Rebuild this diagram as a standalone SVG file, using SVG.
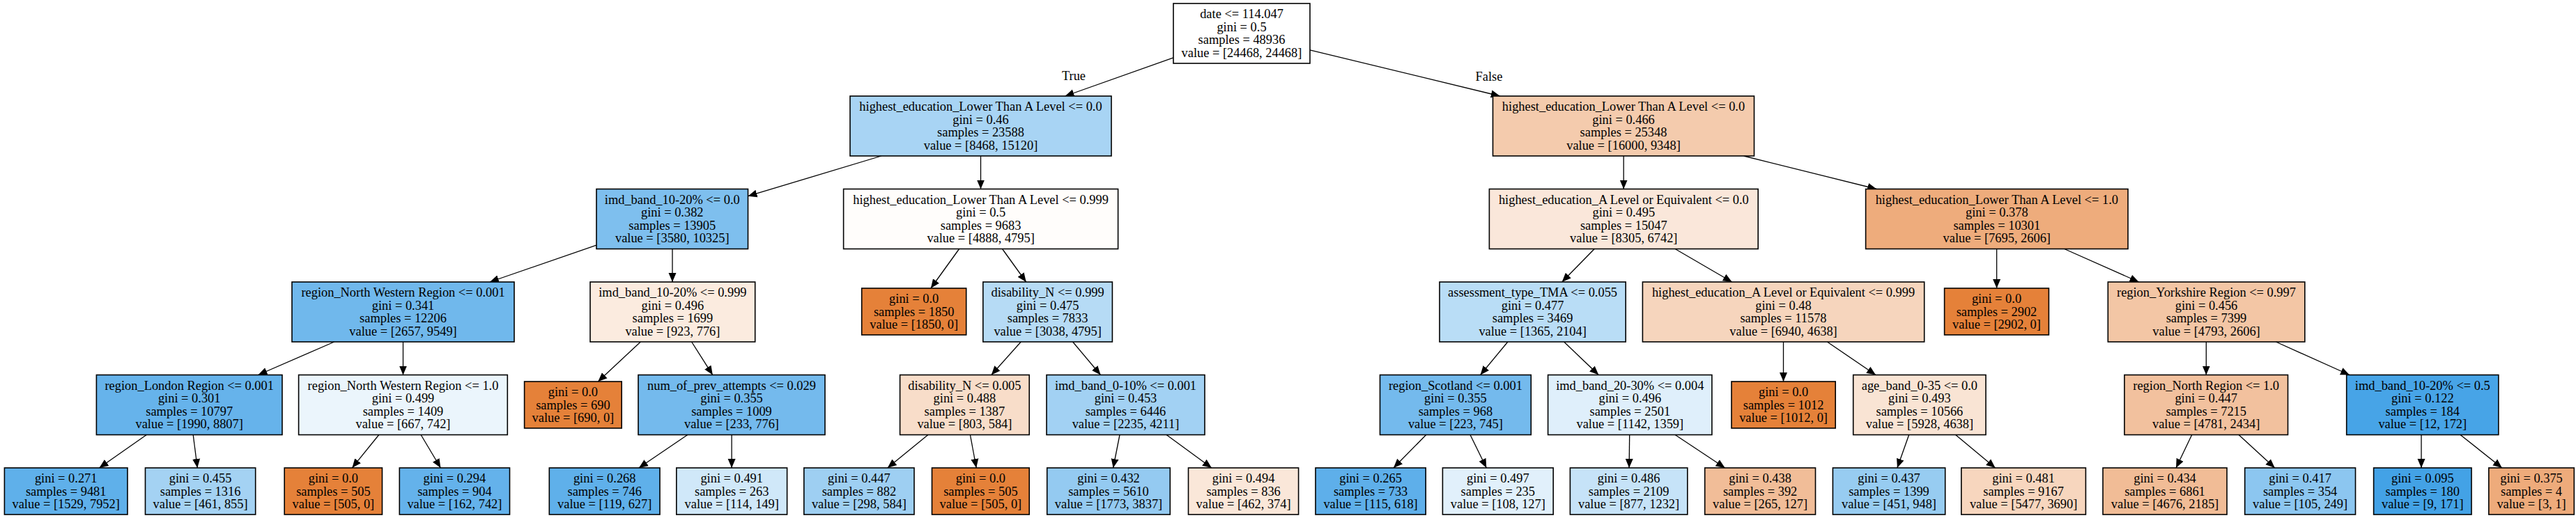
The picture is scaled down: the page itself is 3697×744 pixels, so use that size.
<svg xmlns="http://www.w3.org/2000/svg" width="3697" height="744" viewBox="0 0 3697 744">
<style>
.n{stroke:#000;stroke-width:1.6}
.t{font-family:"Liberation Serif","Times New Roman",serif;font-size:18.4px;text-anchor:middle;fill:#000}
.e{stroke:#000;stroke-width:1.3;fill:none;marker-end:url(#arr)}
</style>
<defs>
<marker id="arr" viewBox="0 -6 14 12" refX="13" refY="0" markerWidth="14" markerHeight="12" markerUnits="userSpaceOnUse" orient="auto">
<path d="M0,-5.5 L13,0 L0,5.5 z" fill="#000"/>
</marker>
</defs>
<rect width="3697" height="744" fill="#fff"/>
<g id="edges">
<line class="e" x1="1684" y1="82.8" x2="1528.6" y2="138"/>
<line class="e" x1="1880" y1="71.8" x2="2152.8" y2="138"/>
<line class="e" x1="1264.9" y1="224" x2="1073.5" y2="281.7"/>
<line class="e" x1="1407.5" y1="224" x2="1407.5" y2="271.5"/>
<line class="e" x1="2330.2" y1="224" x2="2330.2" y2="271.5"/>
<line class="e" x1="2502.6" y1="224" x2="2693.2" y2="271.5"/>
<line class="e" x1="856" y1="352.1" x2="702.9" y2="405"/>
<line class="e" x1="965" y1="357.5" x2="965" y2="405"/>
<line class="e" x1="1376.6" y1="357.5" x2="1335.9" y2="414"/>
<line class="e" x1="1438.5" y1="357.5" x2="1472.7" y2="405"/>
<line class="e" x1="2288.2" y1="357.5" x2="2241.7" y2="405"/>
<line class="e" x1="2404.1" y1="357.5" x2="2485.7" y2="405"/>
<line class="e" x1="2865.6" y1="357.5" x2="2865.6" y2="414"/>
<line class="e" x1="2962.7" y1="357.5" x2="3069.6" y2="405"/>
<line class="e" x1="479.7" y1="491" x2="370.5" y2="538.5"/>
<line class="e" x1="578.5" y1="491" x2="578.5" y2="538.5"/>
<line class="e" x1="919.3" y1="491" x2="858.3" y2="548"/>
<line class="e" x1="992.6" y1="491" x2="1022.8" y2="538.5"/>
<line class="e" x1="1465.2" y1="491" x2="1422.8" y2="538.5"/>
<line class="e" x1="1539.6" y1="491" x2="1579.5" y2="538.5"/>
<line class="e" x1="2163.9" y1="491" x2="2124.6" y2="538.5"/>
<line class="e" x1="2244.6" y1="491" x2="2294.3" y2="538.5"/>
<line class="e" x1="2559.5" y1="491" x2="2559.5" y2="548"/>
<line class="e" x1="2622.4" y1="491" x2="2692" y2="538.5"/>
<line class="e" x1="3166.3" y1="491" x2="3166.3" y2="538.5"/>
<line class="e" x1="3266.4" y1="491" x2="3372" y2="538.5"/>
<line class="e" x1="210.3" y1="624.5" x2="142.5" y2="672"/>
<line class="e" x1="277.2" y1="624.5" x2="283.3" y2="672"/>
<line class="e" x1="543.8" y1="624.5" x2="505.4" y2="672"/>
<line class="e" x1="604.1" y1="624.5" x2="632.4" y2="672"/>
<line class="e" x1="986.8" y1="624.5" x2="916.9" y2="672"/>
<line class="e" x1="1050.1" y1="624.5" x2="1050.1" y2="672"/>
<line class="e" x1="1331.9" y1="624.5" x2="1273.8" y2="672"/>
<line class="e" x1="1392.4" y1="624.5" x2="1401.2" y2="672"/>
<line class="e" x1="1607" y1="624.5" x2="1597.6" y2="672"/>
<line class="e" x1="1674.1" y1="624.5" x2="1738.9" y2="672"/>
<line class="e" x1="2046.7" y1="624.5" x2="2000" y2="672"/>
<line class="e" x1="2110" y1="624.5" x2="2133.3" y2="672"/>
<line class="e" x1="2338.7" y1="624.5" x2="2338.1" y2="672"/>
<line class="e" x1="2404.1" y1="624.5" x2="2475.6" y2="672"/>
<line class="e" x1="2739.7" y1="624.5" x2="2722.9" y2="672"/>
<line class="e" x1="2806.6" y1="624.5" x2="2863.6" y2="672"/>
<line class="e" x1="3145.7" y1="624.5" x2="3123" y2="672"/>
<line class="e" x1="3213" y1="624.5" x2="3264.7" y2="672"/>
<line class="e" x1="3475" y1="624.5" x2="3475" y2="672"/>
<line class="e" x1="3531" y1="624.5" x2="3590.8" y2="672"/>
<text class="t" x="1541" y="115">True</text>
<text class="t" x="2137" y="116">False</text>
</g>

<g id="n0"><rect class="n" x="1684" y="5" width="196" height="86" fill="#ffffff"/>
<text class="t" x="1782" y="26.25">date &lt;= 114.047</text><text class="t" x="1782" y="44.75">gini = 0.5</text><text class="t" x="1782" y="63.25">samples = 48936</text><text class="t" x="1782" y="81.75">value = [24468, 24468]</text></g>

<g id="n1"><rect class="n" x="1220" y="138" width="375" height="86" fill="#a8d4f4"/>
<text class="t" x="1407.5" y="159.25">highest_education_Lower Than A Level &lt;= 0.0</text><text class="t" x="1407.5" y="177.75">gini = 0.46</text><text class="t" x="1407.5" y="196.25">samples = 23588</text><text class="t" x="1407.5" y="214.75">value = [8468, 15120]</text></g>

<g id="n2"><rect class="n" x="2142.5" y="138" width="375" height="86" fill="#f4cbad"/>
<text class="t" x="2330" y="159.25">highest_education_Lower Than A Level &lt;= 0.0</text><text class="t" x="2330" y="177.75">gini = 0.466</text><text class="t" x="2330" y="196.25">samples = 25348</text><text class="t" x="2330" y="214.75">value = [16000, 9348]</text></g>

<g id="n3"><rect class="n" x="856" y="271.5" width="217.5" height="86" fill="#7ebfee"/>
<text class="t" x="964.75" y="292.75">imd_band_10-20% &lt;= 0.0</text><text class="t" x="964.75" y="311.25">gini = 0.382</text><text class="t" x="964.75" y="329.75">samples = 13905</text><text class="t" x="964.75" y="348.25">value = [3580, 10325]</text></g>

<g id="n4"><rect class="n" x="1210.6" y="271.5" width="394" height="86" fill="#fffdfb"/>
<text class="t" x="1407.6" y="292.75">highest_education_Lower Than A Level &lt;= 0.999</text><text class="t" x="1407.6" y="311.25">gini = 0.5</text><text class="t" x="1407.6" y="329.75">samples = 9683</text><text class="t" x="1407.6" y="348.25">value = [4888, 4795]</text></g>

<g id="n5"><rect class="n" x="2137.4" y="271.5" width="385.8" height="86" fill="#fae7da"/>
<text class="t" x="2330.3" y="292.75">highest_education_A Level or Equivalent &lt;= 0.0</text><text class="t" x="2330.3" y="311.25">gini = 0.495</text><text class="t" x="2330.3" y="329.75">samples = 15047</text><text class="t" x="2330.3" y="348.25">value = [8305, 6742]</text></g>

<g id="n6"><rect class="n" x="2677.6" y="271.5" width="376.4" height="86" fill="#eeac7c"/>
<text class="t" x="2865.8" y="292.75">highest_education_Lower Than A Level &lt;= 1.0</text><text class="t" x="2865.8" y="311.25">gini = 0.378</text><text class="t" x="2865.8" y="329.75">samples = 10301</text><text class="t" x="2865.8" y="348.25">value = [7695, 2606]</text></g>

<g id="n7"><rect class="n" x="419" y="405" width="319" height="86" fill="#70b8ec"/>
<text class="t" x="578.5" y="426.25">region_North Western Region &lt;= 0.001</text><text class="t" x="578.5" y="444.75">gini = 0.341</text><text class="t" x="578.5" y="463.25">samples = 12206</text><text class="t" x="578.5" y="481.75">value = [2657, 9549]</text></g>

<g id="n8"><rect class="n" x="847" y="405" width="236.7" height="86" fill="#fbebdf"/>
<text class="t" x="965.4" y="426.25">imd_band_10-20% &lt;= 0.999</text><text class="t" x="965.4" y="444.75">gini = 0.496</text><text class="t" x="965.4" y="463.25">samples = 1699</text><text class="t" x="965.4" y="481.75">value = [923, 776]</text></g>

<g id="n9"><rect class="n" x="1236.7" y="414" width="150" height="67" fill="#e58139"/>
<text class="t" x="1311.7" y="435">gini = 0.0</text><text class="t" x="1311.7" y="453.5">samples = 1850</text><text class="t" x="1311.7" y="472">value = [1850, 0]</text></g>

<g id="n10"><rect class="n" x="1410.8" y="405" width="185.6" height="86" fill="#b6dbf5"/>
<text class="t" x="1503.6" y="426.25">disability_N &lt;= 0.999</text><text class="t" x="1503.6" y="444.75">gini = 0.475</text><text class="t" x="1503.6" y="463.25">samples = 7833</text><text class="t" x="1503.6" y="481.75">value = [3038, 4795]</text></g>

<g id="n11"><rect class="n" x="2066" y="405" width="267.2" height="86" fill="#b9ddf6"/>
<text class="t" x="2199.6" y="426.25">assessment_type_TMA &lt;= 0.055</text><text class="t" x="2199.6" y="444.75">gini = 0.477</text><text class="t" x="2199.6" y="463.25">samples = 3469</text><text class="t" x="2199.6" y="481.75">value = [1365, 2104]</text></g>

<g id="n12"><rect class="n" x="2357.4" y="405" width="404.3" height="86" fill="#f6d5bd"/>
<text class="t" x="2559.5" y="426.25">highest_education_A Level or Equivalent &lt;= 0.999</text><text class="t" x="2559.5" y="444.75">gini = 0.48</text><text class="t" x="2559.5" y="463.25">samples = 11578</text><text class="t" x="2559.5" y="481.75">value = [6940, 4638]</text></g>

<g id="n13"><rect class="n" x="2790.6" y="414" width="149.8" height="67" fill="#e58139"/>
<text class="t" x="2865.5" y="435">gini = 0.0</text><text class="t" x="2865.5" y="453.5">samples = 2902</text><text class="t" x="2865.5" y="472">value = [2902, 0]</text></g>

<g id="n14"><rect class="n" x="3025.3" y="405" width="282.5" height="86" fill="#f3c6a5"/>
<text class="t" x="3166.5" y="426.25">region_Yorkshire Region &lt;= 0.997</text><text class="t" x="3166.5" y="444.75">gini = 0.456</text><text class="t" x="3166.5" y="463.25">samples = 7399</text><text class="t" x="3166.5" y="481.75">value = [4793, 2606]</text></g>

<g id="n15"><rect class="n" x="138.4" y="538.5" width="266.6" height="86" fill="#66b3eb"/>
<text class="t" x="271.7" y="559.75">region_London Region &lt;= 0.001</text><text class="t" x="271.7" y="578.25">gini = 0.301</text><text class="t" x="271.7" y="596.75">samples = 10797</text><text class="t" x="271.7" y="615.25">value = [1990, 8807]</text></g>

<g id="n16"><rect class="n" x="428.6" y="538.5" width="299.7" height="86" fill="#ebf5fc"/>
<text class="t" x="578.5" y="559.75">region_North Western Region &lt;= 1.0</text><text class="t" x="578.5" y="578.25">gini = 0.499</text><text class="t" x="578.5" y="596.75">samples = 1409</text><text class="t" x="578.5" y="615.25">value = [667, 742]</text></g>

<g id="n17"><rect class="n" x="752.6" y="548" width="139.6" height="67" fill="#e58139"/>
<text class="t" x="822.4" y="569">gini = 0.0</text><text class="t" x="822.4" y="587.5">samples = 690</text><text class="t" x="822.4" y="606">value = [690, 0]</text></g>

<g id="n18"><rect class="n" x="916" y="538.5" width="268" height="86" fill="#74baed"/>
<text class="t" x="1050" y="559.75">num_of_prev_attempts &lt;= 0.029</text><text class="t" x="1050" y="578.25">gini = 0.355</text><text class="t" x="1050" y="596.75">samples = 1009</text><text class="t" x="1050" y="615.25">value = [233, 776]</text></g>

<g id="n19"><rect class="n" x="1291.6" y="538.5" width="185.6" height="86" fill="#f8ddc9"/>
<text class="t" x="1384.4" y="559.75">disability_N &lt;= 0.005</text><text class="t" x="1384.4" y="578.25">gini = 0.488</text><text class="t" x="1384.4" y="596.75">samples = 1387</text><text class="t" x="1384.4" y="615.25">value = [803, 584]</text></g>

<g id="n20"><rect class="n" x="1502" y="538.5" width="227" height="86" fill="#a2d1f3"/>
<text class="t" x="1615.5" y="559.75">imd_band_0-10% &lt;= 0.001</text><text class="t" x="1615.5" y="578.25">gini = 0.453</text><text class="t" x="1615.5" y="596.75">samples = 6446</text><text class="t" x="1615.5" y="615.25">value = [2235, 4211]</text></g>

<g id="n21"><rect class="n" x="1980.5" y="538.5" width="216.8" height="86" fill="#74baed"/>
<text class="t" x="2088.9" y="559.75">region_Scotland &lt;= 0.001</text><text class="t" x="2088.9" y="578.25">gini = 0.355</text><text class="t" x="2088.9" y="596.75">samples = 968</text><text class="t" x="2088.9" y="615.25">value = [223, 745]</text></g>

<g id="n22"><rect class="n" x="2221.6" y="538.5" width="235.3" height="86" fill="#dfeffb"/>
<text class="t" x="2339.3" y="559.75">imd_band_20-30% &lt;= 0.004</text><text class="t" x="2339.3" y="578.25">gini = 0.496</text><text class="t" x="2339.3" y="596.75">samples = 2501</text><text class="t" x="2339.3" y="615.25">value = [1142, 1359]</text></g>

<g id="n23"><rect class="n" x="2485" y="548" width="149.2" height="67" fill="#e58139"/>
<text class="t" x="2559.6" y="569">gini = 0.0</text><text class="t" x="2559.6" y="587.5">samples = 1012</text><text class="t" x="2559.6" y="606">value = [1012, 0]</text></g>

<g id="n24"><rect class="n" x="2659.7" y="538.5" width="190.3" height="86" fill="#f9e4d4"/>
<text class="t" x="2754.9" y="559.75">age_band_0-35 &lt;= 0.0</text><text class="t" x="2754.9" y="578.25">gini = 0.493</text><text class="t" x="2754.9" y="596.75">samples = 10566</text><text class="t" x="2754.9" y="615.25">value = [5928, 4638]</text></g>

<g id="n25"><rect class="n" x="3048.9" y="538.5" width="234.6" height="86" fill="#f2c19e"/>
<text class="t" x="3166.2" y="559.75">region_North Region &lt;= 1.0</text><text class="t" x="3166.2" y="578.25">gini = 0.447</text><text class="t" x="3166.2" y="596.75">samples = 7215</text><text class="t" x="3166.2" y="615.25">value = [4781, 2434]</text></g>

<g id="n26"><rect class="n" x="3367.7" y="538.5" width="218.1" height="86" fill="#47a4e7"/>
<text class="t" x="3476.8" y="559.75">imd_band_10-20% &lt;= 0.5</text><text class="t" x="3476.8" y="578.25">gini = 0.122</text><text class="t" x="3476.8" y="596.75">samples = 184</text><text class="t" x="3476.8" y="615.25">value = [12, 172]</text></g>

<g id="l1"><rect class="n" x="6.4" y="672" width="176.6" height="67" fill="#5fb0ea"/>
<text class="t" x="94.7" y="693">gini = 0.271</text><text class="t" x="94.7" y="711.5">samples = 9481</text><text class="t" x="94.7" y="730">value = [1529, 7952]</text></g>

<g id="l2"><rect class="n" x="208.5" y="672" width="158.2" height="67" fill="#a4d2f3"/>
<text class="t" x="287.6" y="693">gini = 0.455</text><text class="t" x="287.6" y="711.5">samples = 1316</text><text class="t" x="287.6" y="730">value = [461, 855]</text></g>

<g id="l3"><rect class="n" x="408.2" y="672" width="140.3" height="67" fill="#e58139"/>
<text class="t" x="478.4" y="693">gini = 0.0</text><text class="t" x="478.4" y="711.5">samples = 505</text><text class="t" x="478.4" y="730">value = [505, 0]</text></g>

<g id="l4"><rect class="n" x="573.3" y="672" width="158.2" height="67" fill="#64b2eb"/>
<text class="t" x="652.4" y="693">gini = 0.294</text><text class="t" x="652.4" y="711.5">samples = 904</text><text class="t" x="652.4" y="730">value = [162, 742]</text></g>

<g id="l5"><rect class="n" x="788.3" y="672" width="158.7" height="67" fill="#5fb0ea"/>
<text class="t" x="867.7" y="693">gini = 0.268</text><text class="t" x="867.7" y="711.5">samples = 746</text><text class="t" x="867.7" y="730">value = [119, 627]</text></g>

<g id="l6"><rect class="n" x="970.8" y="672" width="158.8" height="67" fill="#d0e8f9"/>
<text class="t" x="1050.2" y="693">gini = 0.491</text><text class="t" x="1050.2" y="711.5">samples = 263</text><text class="t" x="1050.2" y="730">value = [114, 149]</text></g>

<g id="l7"><rect class="n" x="1153.8" y="672" width="158.2" height="67" fill="#9ecff2"/>
<text class="t" x="1232.9" y="693">gini = 0.447</text><text class="t" x="1232.9" y="711.5">samples = 882</text><text class="t" x="1232.9" y="730">value = [298, 584]</text></g>

<g id="l8"><rect class="n" x="1337.5" y="672" width="139.7" height="67" fill="#e58139"/>
<text class="t" x="1407.4" y="693">gini = 0.0</text><text class="t" x="1407.4" y="711.5">samples = 505</text><text class="t" x="1407.4" y="730">value = [505, 0]</text></g>

<g id="l9"><rect class="n" x="1502.7" y="672" width="176.6" height="67" fill="#94caf1"/>
<text class="t" x="1591" y="693">gini = 0.432</text><text class="t" x="1591" y="711.5">samples = 5610</text><text class="t" x="1591" y="730">value = [1773, 3837]</text></g>

<g id="l10"><rect class="n" x="1705.5" y="672" width="158.1" height="67" fill="#fae7d9"/>
<text class="t" x="1784.6" y="693">gini = 0.494</text><text class="t" x="1784.6" y="711.5">samples = 836</text><text class="t" x="1784.6" y="730">value = [462, 374]</text></g>

<g id="l11"><rect class="n" x="1888" y="672" width="158.2" height="67" fill="#5eafea"/>
<text class="t" x="1967.1" y="693">gini = 0.265</text><text class="t" x="1967.1" y="711.5">samples = 733</text><text class="t" x="1967.1" y="730">value = [115, 618]</text></g>

<g id="l12"><rect class="n" x="2070.4" y="672" width="158.8" height="67" fill="#e1f0fb"/>
<text class="t" x="2149.8" y="693">gini = 0.497</text><text class="t" x="2149.8" y="711.5">samples = 235</text><text class="t" x="2149.8" y="730">value = [108, 127]</text></g>

<g id="l13"><rect class="n" x="2253.4" y="672" width="168.4" height="67" fill="#c6e3f8"/>
<text class="t" x="2337.6" y="693">gini = 0.486</text><text class="t" x="2337.6" y="711.5">samples = 2109</text><text class="t" x="2337.6" y="730">value = [877, 1232]</text></g>

<g id="l14"><rect class="n" x="2446.7" y="672" width="158.8" height="67" fill="#f1bd98"/>
<text class="t" x="2526.1" y="693">gini = 0.438</text><text class="t" x="2526.1" y="711.5">samples = 392</text><text class="t" x="2526.1" y="730">value = [265, 127]</text></g>

<g id="l15"><rect class="n" x="2630.4" y="672" width="161.3" height="67" fill="#97ccf1"/>
<text class="t" x="2711" y="693">gini = 0.437</text><text class="t" x="2711" y="711.5">samples = 1399</text><text class="t" x="2711" y="730">value = [451, 948]</text></g>

<g id="l16"><rect class="n" x="2814.8" y="672" width="178.6" height="67" fill="#f7d6be"/>
<text class="t" x="2904.1" y="693">gini = 0.481</text><text class="t" x="2904.1" y="711.5">samples = 9167</text><text class="t" x="2904.1" y="730">value = [5477, 3690]</text></g>

<g id="l17"><rect class="n" x="3018" y="672" width="178" height="67" fill="#f1bc96"/>
<text class="t" x="3107" y="693">gini = 0.434</text><text class="t" x="3107" y="711.5">samples = 6861</text><text class="t" x="3107" y="730">value = [4676, 2185]</text></g>

<g id="l18"><rect class="n" x="3221.7" y="672" width="158.8" height="67" fill="#8cc6f0"/>
<text class="t" x="3301.1" y="693">gini = 0.417</text><text class="t" x="3301.1" y="711.5">samples = 354</text><text class="t" x="3301.1" y="730">value = [105, 249]</text></g>

<g id="l19"><rect class="n" x="3406.6" y="672" width="140.4" height="67" fill="#43a2e6"/>
<text class="t" x="3476.8" y="693">gini = 0.095</text><text class="t" x="3476.8" y="711.5">samples = 180</text><text class="t" x="3476.8" y="730">value = [9, 171]</text></g>

<g id="l20"><rect class="n" x="3571.8" y="672" width="122.5" height="67" fill="#eeab7b"/>
<text class="t" x="3633" y="693">gini = 0.375</text><text class="t" x="3633" y="711.5">samples = 4</text><text class="t" x="3633" y="730">value = [3, 1]</text></g>
</svg>
